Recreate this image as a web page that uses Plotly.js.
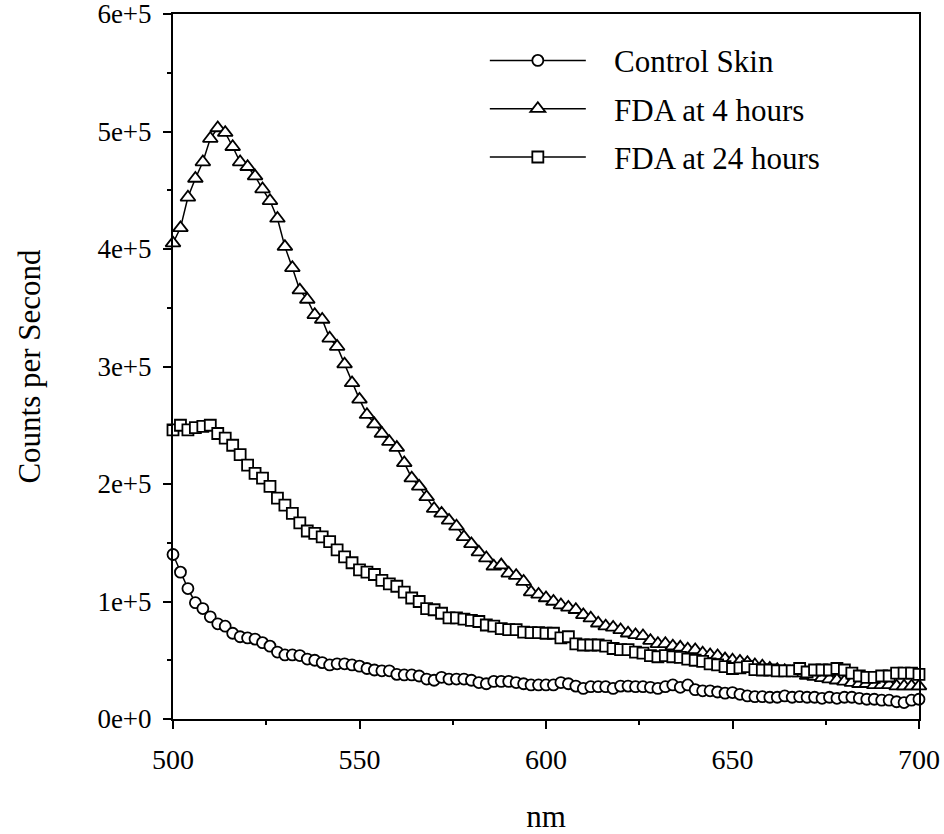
<!DOCTYPE html>
<html>
<head>
<meta charset="utf-8">
<script src="https://cdn.plot.ly/plotly-3.0.1.min.js"></script>
<style>
  html, body { margin: 0; padding: 0; background: #ffffff; }
  #chart { width: 944px; height: 834px; }
</style>
</head>
<body>
<div id="chart"></div>
<script>
// Wavelength (nm)
const wavelengths = [
  500, 502, 504, 506, 508, 510, 512, 514, 516, 518,
  520, 522, 524, 526, 528, 530, 532, 534, 536, 538,
  540, 542, 544, 546, 548, 550, 552, 554, 556, 558,
  560, 562, 564, 566, 568, 570, 572, 574, 576, 578,
  580, 582, 584, 586, 588, 590, 592, 594, 596, 598,
  600, 602, 604, 606, 608, 610, 612, 614, 616, 618,
  620, 622, 624, 626, 628, 630, 632, 634, 636, 638,
  640, 642, 644, 646, 648, 650, 652, 654, 656, 658,
  660, 662, 664, 666, 668, 670, 672, 674, 676, 678,
  680, 682, 684, 686, 688, 690, 692, 694, 696, 698,
  700
];

// Control Skin (counts per second)
const controlSkin = [
  140000, 125000, 111000, 99000, 94000, 87000, 81000, 79000, 73000, 70000,
  69000, 68000, 65000, 62000, 57000, 54500, 54500, 54000, 51000, 50000,
  48000, 46000, 47000, 47000, 46000, 45000, 43000, 41700, 41000, 41000,
  38000, 37500, 37500, 36600, 34000, 33000, 35500, 34000, 34000, 34000,
  33000, 31000, 30000, 32000, 32000, 32000, 31000, 30000, 29000, 29000,
  29000, 29000, 31000, 30000, 28000, 26000, 27500, 27500, 27500, 26000,
  28000, 28000, 27500, 27500, 27000, 26000, 27500, 29000, 27000, 29000,
  25000, 24000, 24000, 23000, 22000, 22500, 21000, 19600, 19000, 19000,
  18500, 18500, 19600, 18500, 19000, 18500, 18500, 17600, 18500, 17600,
  18500, 18500, 17600, 16800, 16800, 16000, 16000, 14700, 14000, 16000,
  16800
];

// FDA at 4 hours
const fda4h = [
  405000, 418000, 444000, 460000, 474000, 494000, 503000, 499000, 487000, 474000,
  470000, 462000, 451000, 441000, 426000, 402000, 384000, 365000, 357000, 344000,
  340000, 324000, 317000, 302000, 286000, 272000, 259000, 251000, 243000, 236000,
  231000, 218000, 205000, 198000, 189000, 179000, 175000, 169000, 164000, 155000,
  149000, 142000, 137000, 130000, 131000, 124000, 122000, 117000, 108000, 106000,
  103000, 100000, 97000, 95000, 93000, 88600, 85800, 81500, 79000, 78000,
  75800, 73000, 71600, 70700, 66700, 64000, 64000, 62000, 61000, 59400,
  58800, 56000, 54500, 53700, 51000, 50000, 49000, 48000, 46000, 45000,
  43000, 42000, 41000, 40000, 39000, 37000, 36000, 35000, 34000, 33000,
  32000, 31000, 30000, 30000, 29000, 29000, 29000, 28000, 28000, 28000,
  28000
];

// FDA at 24 hours
const fda24h = [
  246000, 250000, 246000, 248000, 249000, 250000, 243000, 239000, 233000, 225000,
  216000, 209000, 205000, 198000, 188000, 182000, 175000, 167000, 160000, 158000,
  155000, 151000, 144000, 138000, 133000, 127000, 125000, 123000, 118000, 115000,
  113000, 108000, 103000, 100000, 94000, 93000, 90000, 86000, 86000, 85000,
  84000, 83000, 80000, 79000, 77000, 76000, 76000, 74000, 73500, 73500,
  73000, 73000, 69000, 70000, 64000, 63000, 63000, 63000, 62000, 60000,
  59000, 59000, 57000, 56000, 54000, 53000, 54000, 53000, 52500, 51000,
  50000, 49000, 47000, 46000, 44500, 43000, 43500, 44500, 42000, 41700,
  41700, 41000, 41000, 41000, 43000, 40000, 41700, 41700, 41700, 43000,
  41700, 39000, 36600, 35500, 35500, 36600, 36600, 39000, 39000, 39000,
  38000
];

const seriesNames = ["Control Skin", "FDA at 4 hours", "FDA at 24 hours"];

const xTickVals = [500, 550, 600, 650, 700];
const xTickText = ["500", "550", "600", "650", "700"];
const yTickVals = [0, 100000, 200000, 300000, 400000, 500000, 600000];
const yTickText = ["0e+0", "1e+5", "2e+5", "3e+5", "4e+5", "5e+5", "6e+5"];

const FONT = "Liberation Serif, Times New Roman, Times, serif";
const PAD = "\u00a0\u00a0\u00a0";

function mkTrace(y, name, symbol, size) {
  return {
    x: wavelengths,
    y: y,
    name: PAD + name,
    type: "scatter",
    mode: "lines+markers",
    cliponaxis: false,
    line: { color: "#000000", width: 1.5 },
    marker: {
      symbol: symbol,
      size: size,
      color: "#ffffff",
      line: { color: "#000000", width: 1.8 }
    },
    legendgroup: name
  };
}

const data = [
  mkTrace(controlSkin, seriesNames[0], "circle", 11),
  mkTrace(fda4h, seriesNames[1], "triangle-up", 13),
  mkTrace(fda24h, seriesNames[2], "square", 11)
];

const layout = {
  width: 944,
  height: 834,
  paper_bgcolor: "#ffffff",
  plot_bgcolor: "#ffffff",
  margin: { l: 173, r: 25, t: 14, b: 115, pad: 0 },
  font: { family: FONT, color: "#000000", size: 27 },
  showlegend: true,
  legend: {
    x: 0.418, xanchor: "left",
    y: 0.972, yanchor: "top",
    bgcolor: "rgba(0,0,0,0)",
    borderwidth: 0,
    font: { family: FONT, size: 31, color: "#000000" },
    itemwidth: 96,
    traceorder: "grouped",
    tracegroupgap: 5
  },
  xaxis: {
    range: [500, 700],
    tickmode: "array",
    tickvals: xTickVals,
    ticktext: xTickText,
    ticks: "outside",
    ticklen: 8,
    tickwidth: 2,
    tickcolor: "#000000",
    ticklabelstandoff: 6,
    ticklabeloverflow: "allow",
    minor: { ticks: "outside", ticklen: 4, tickwidth: 2, dtick: 25, tickcolor: "#000000" },
    showline: true,
    linecolor: "#000000",
    linewidth: 2,
    mirror: true,
    showgrid: false,
    zeroline: false,
    tickfont: { family: FONT, size: 28, color: "#000000" },
    title: { text: "nm", font: { family: FONT, size: 31, color: "#000000" }, standoff: 38 }
  },
  yaxis: {
    range: [0, 600000],
    tickmode: "array",
    tickvals: yTickVals,
    ticktext: yTickText,
    ticks: "outside",
    ticklen: 8,
    tickwidth: 2,
    tickcolor: "#000000",
    ticklabelstandoff: 6,
    ticklabeloverflow: "allow",
    minor: { ticks: "outside", ticklen: 4, tickwidth: 2, dtick: 50000, tickcolor: "#000000" },
    showline: true,
    linecolor: "#000000",
    linewidth: 2,
    mirror: true,
    showgrid: false,
    zeroline: false,
    tickfont: { family: FONT, size: 27, color: "#000000" },
    title: { text: "Counts per Second", font: { family: FONT, size: 31, color: "#000000" }, standoff: 48 }
  }
};

Plotly.newPlot("chart", data, layout, { displayModeBar: false, staticPlot: true });
</script>
</body>
</html>
